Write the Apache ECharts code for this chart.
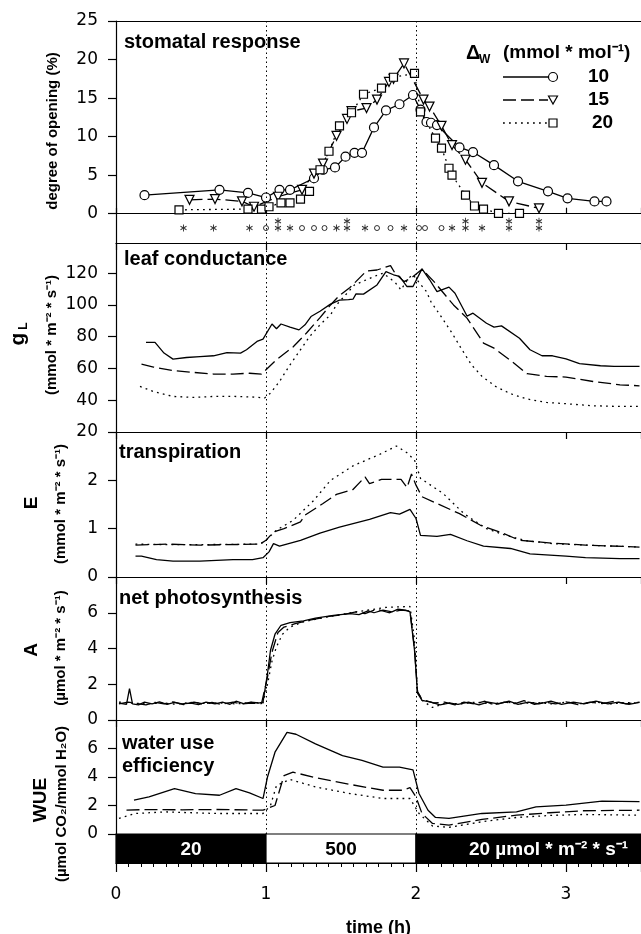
<!DOCTYPE html>
<html>
<head>
<meta charset="utf-8">
<script src="https://cdn.jsdelivr.net/npm/echarts@6/dist/echarts.min.js"></script>
<style>
  html, body { margin: 0; padding: 0; background: #fff; }
  #chart { width: 641px; height: 934px; }
</style>
</head>
<body>
<div id="chart"></div>
<script>
// stomatal response (degree of opening, %), [time h, value]
var openCirc = [[0.19, 2.4], [0.69, 3.1], [0.88, 2.7], [1.00, 2.1], [1.09, 3.1], [1.16, 3.1], [1.32, 4.6], [1.38, 5.7], [1.46, 6.0], [1.53, 7.4], [1.59, 7.9], [1.64, 7.9], [1.72, 11.2], [1.80, 13.4], [1.89, 14.2], [1.98, 15.4], [2.03, 13.5], [2.07, 11.9], [2.10, 11.8], [2.14, 11.5], [2.29, 8.6], [2.38, 8.0], [2.52, 6.3], [2.68, 4.2], [2.88, 2.9], [3.01, 2.0], [3.19, 1.6], [3.27, 1.6]]
var openTri = [[0.49, 1.8], [0.66, 1.9], [0.84, 1.6], [0.92, 0.9], [1.08, 2.2], [1.24, 3.1], [1.32, 5.2], [1.38, 6.5], [1.47, 10.1], [1.54, 12.3], [1.57, 13.3], [1.67, 13.7], [1.74, 14.8], [1.82, 17.1], [1.85, 17.5], [1.92, 19.5], [2.05, 14.8], [2.09, 13.9], [2.17, 11.4], [2.24, 8.9], [2.33, 7.0], [2.44, 4.0], [2.62, 1.6], [2.82, 0.7]]
var openSq = [[0.42, 0.5], [0.88, 0.6], [0.97, 0.6], [1.02, 0.9], [1.10, 1.4], [1.16, 1.4], [1.23, 1.9], [1.29, 2.9], [1.36, 5.7], [1.42, 8.1], [1.49, 11.4], [1.57, 13.1], [1.65, 15.5], [1.77, 16.3], [1.85, 17.7], [1.99, 18.2], [2.03, 13.2], [2.13, 9.8], [2.17, 8.5], [2.22, 5.9], [2.24, 5.0], [2.33, 2.4], [2.39, 1.0], [2.45, 0.6], [2.55, 0.05], [2.69, 0.05]]
// significance marks under the zero line
var sigStarX = [0.45, 0.65, 0.89, 1.08, 1.16, 1.47, 1.54, 1.66, 1.92, 2.24, 2.33, 2.44, 2.62, 2.82]
var sigStarTopX = [1.08, 1.54, 2.33, 2.62, 2.82]
var sigRingX = [1.00, 1.24, 1.32, 1.39, 1.74, 1.83, 2.02, 2.06, 2.17]

// leaf conductance gL
var gSolid = [[0.20, 76.4], [0.26, 76.4], [0.32, 69.7], [0.38, 65.9], [0.47, 66.9], [0.56, 67.5], [0.65, 68.0], [0.74, 70.0], [0.83, 69.7], [0.87, 71.8], [0.94, 77.0], [0.98, 78.5], [1.04, 88.0], [1.07, 85.0], [1.10, 88.0], [1.16, 86.0], [1.22, 84.3], [1.26, 87.5], [1.30, 92.7], [1.36, 96.0], [1.43, 100.5], [1.49, 103.0], [1.55, 103.3], [1.58, 103.6], [1.60, 107.0], [1.65, 106.8], [1.74, 112.6], [1.80, 121.0], [1.85, 119.0], [1.89, 118.0], [1.94, 111.6], [1.98, 111.6], [2.04, 122.7], [2.09, 116.0], [2.14, 108.4], [2.22, 111.2], [2.26, 107.4], [2.34, 93.0], [2.38, 94.8], [2.47, 88.5], [2.52, 86.0], [2.57, 86.8], [2.69, 79.0], [2.76, 71.8], [2.84, 68.0], [2.91, 68.0], [3.00, 66.0], [3.09, 63.0], [3.23, 61.7], [3.32, 61.3], [3.49, 61.3]]
var gDash = [[0.17, 62.8], [0.25, 60.9], [0.38, 58.7], [0.52, 57.5], [0.65, 56.5], [0.78, 56.5], [0.89, 57.0], [0.97, 56.5], [1.07, 65.5], [1.18, 73.5], [1.27, 82.3], [1.36, 92.0], [1.43, 100.0], [1.49, 106.0], [1.56, 111.0], [1.67, 121.4], [1.74, 122.0], [1.83, 124.8], [1.86, 120.0], [1.92, 114.7], [1.97, 117.0], [2.04, 122.5], [2.12, 114.7], [2.25, 100.0], [2.34, 91.7], [2.45, 76.0], [2.52, 72.8], [2.64, 64.4], [2.74, 56.7], [2.87, 55.0], [3.00, 54.6], [3.18, 51.8], [3.36, 49.7], [3.49, 49.1]]
var gDot = [[0.16, 48.7], [0.25, 45.5], [0.38, 42.4], [0.52, 41.8], [0.65, 42.4], [0.78, 42.4], [0.92, 42.0], [0.99, 41.4], [1.03, 44.5], [1.09, 51.8], [1.16, 62.3], [1.23, 71.8], [1.29, 80.0], [1.36, 87.5], [1.43, 93.8], [1.47, 100.0], [1.59, 112.6], [1.72, 117.9], [1.78, 120.0], [1.86, 114.3], [1.90, 109.5], [1.95, 116.9], [1.98, 119.0], [2.03, 113.0], [2.07, 108.4], [2.10, 102.0], [2.17, 92.3], [2.24, 82.3], [2.30, 72.8], [2.37, 62.3], [2.44, 55.0], [2.53, 48.7], [2.63, 44.1], [2.74, 40.8], [2.87, 38.6], [3.00, 37.8], [3.18, 36.5], [3.36, 36.1], [3.49, 36.1]]

// transpiration E
var eSolid = [[0.13, 0.43], [0.17, 0.43], [0.27, 0.36], [0.38, 0.33], [0.56, 0.33], [0.78, 0.36], [0.91, 0.36], [0.98, 0.40], [1.02, 0.52], [1.05, 0.69], [1.09, 0.64], [1.23, 0.76], [1.36, 0.91], [1.49, 1.03], [1.69, 1.19], [1.83, 1.33], [1.89, 1.30], [1.96, 1.40], [2.00, 1.21], [2.03, 0.86], [2.14, 0.84], [2.23, 0.88], [2.34, 0.75], [2.45, 0.64], [2.63, 0.59], [2.76, 0.48], [3.00, 0.43], [3.13, 0.40], [3.36, 0.38], [3.49, 0.38]]
var eDash = [[0.13, 0.66], [0.34, 0.68], [0.56, 0.66], [0.96, 0.68], [1.00, 0.76], [1.05, 0.93], [1.12, 1.00], [1.23, 1.14], [1.26, 1.28], [1.38, 1.52], [1.47, 1.71], [1.58, 1.81], [1.66, 2.07], [1.69, 1.93], [1.77, 2.02], [1.90, 2.02], [1.94, 1.85], [1.97, 2.13], [2.00, 1.90], [2.04, 1.66], [2.14, 1.52], [2.29, 1.31], [2.43, 1.07], [2.56, 0.93], [2.69, 0.76], [2.91, 0.70], [3.13, 0.66], [3.49, 0.62]]
var eDot = [[0.13, 0.68], [0.34, 0.67], [0.56, 0.67], [0.96, 0.68], [1.00, 0.76], [1.07, 0.97], [1.18, 1.17], [1.32, 1.59], [1.43, 2.00], [1.58, 2.30], [1.76, 2.54], [1.87, 2.71], [1.94, 2.57], [1.99, 2.42], [2.03, 2.04], [2.18, 1.73], [2.32, 1.31], [2.47, 1.00], [2.60, 0.86], [2.74, 0.75], [2.91, 0.69], [3.13, 0.66], [3.49, 0.62]]

// net photosynthesis A
var aSolid = [[0.02, 0.95], [0.07, 0.88], [0.09, 1.76], [0.11, 0.90], [0.15, 0.85], [0.19, 1.00], [0.24, 0.90], [0.29, 1.02], [0.34, 0.88], [0.39, 0.98], [0.44, 0.90], [0.50, 0.95], [0.55, 0.86], [0.60, 1.00], [0.66, 0.90], [0.71, 1.00], [0.76, 0.88], [0.80, 1.05], [0.85, 0.92], [0.90, 1.00], [0.95, 0.95], [0.98, 1.00], [1.01, 2.60], [1.03, 3.90], [1.06, 4.80], [1.10, 5.30], [1.16, 5.45], [1.25, 5.55], [1.33, 5.70], [1.45, 5.85], [1.56, 5.95], [1.62, 5.90], [1.68, 6.10], [1.72, 6.00], [1.78, 6.15], [1.84, 6.05], [1.88, 6.20], [1.93, 6.15], [1.96, 6.05], [1.99, 3.90], [2.01, 1.50], [2.04, 1.10], [2.10, 1.00], [2.16, 0.85], [2.22, 0.95], [2.28, 0.88], [2.35, 1.00], [2.42, 0.85], [2.48, 1.00], [2.55, 0.90], [2.62, 1.05], [2.68, 0.88], [2.75, 1.00], [2.82, 0.90], [2.90, 1.05], [2.97, 0.88], [3.05, 1.00], [3.12, 0.90], [3.20, 1.05], [3.28, 0.90], [3.35, 1.00], [3.42, 0.88], [3.49, 0.98]]
var aDash = [[0.02, 0.90], [0.08, 1.00], [0.14, 0.92], [0.20, 0.85], [0.26, 0.98], [0.32, 0.90], [0.38, 1.02], [0.45, 0.86], [0.52, 1.00], [0.58, 0.90], [0.64, 0.98], [0.70, 0.88], [0.78, 1.00], [0.84, 0.90], [0.90, 0.95], [0.97, 0.92], [1.01, 2.40], [1.04, 3.80], [1.08, 4.90], [1.12, 5.20], [1.20, 5.40], [1.30, 5.60], [1.42, 5.80], [1.52, 5.90], [1.60, 6.05], [1.66, 5.95], [1.74, 6.20], [1.82, 6.00], [1.90, 6.15], [1.96, 6.10], [1.99, 4.00], [2.01, 1.60], [2.04, 1.15], [2.12, 0.95], [2.19, 1.00], [2.26, 0.85], [2.32, 1.00], [2.39, 0.90], [2.46, 1.05], [2.52, 0.85], [2.59, 1.00], [2.66, 0.92], [2.72, 1.08], [2.79, 0.88], [2.86, 1.00], [2.93, 0.90], [3.00, 1.02], [3.08, 0.86], [3.16, 1.00], [3.24, 0.92], [3.32, 1.05], [3.40, 0.90], [3.49, 1.00]]
var aDot = [[0.02, 1.00], [0.10, 0.95], [0.20, 0.90], [0.30, 0.95], [0.40, 0.88], [0.50, 0.98], [0.60, 0.92], [0.70, 0.95], [0.80, 0.90], [0.90, 0.98], [0.98, 0.95], [1.01, 2.00], [1.04, 3.30], [1.07, 4.10], [1.11, 4.80], [1.16, 5.20], [1.25, 5.50], [1.40, 5.75], [1.60, 6.05], [1.80, 6.30], [1.96, 6.35], [1.99, 4.50], [2.01, 1.60], [2.04, 1.10], [2.11, 0.70], [2.20, 0.95], [2.30, 0.90], [2.40, 1.00], [2.50, 0.90], [2.60, 1.00], [2.70, 0.92], [2.80, 0.98], [2.90, 0.90], [3.00, 1.00], [3.10, 0.92], [3.20, 1.00], [3.30, 0.90], [3.40, 0.98], [3.49, 0.95]]

// water use efficiency WUE
var wSolid = [[0.12, 2.37], [0.22, 2.60], [0.39, 3.18], [0.53, 2.84], [0.69, 2.72], [0.80, 3.18], [0.89, 2.88], [0.98, 2.49], [1.01, 4.00], [1.06, 5.74], [1.14, 7.13], [1.20, 7.00], [1.33, 6.32], [1.51, 5.50], [1.64, 5.16], [1.78, 4.69], [1.89, 4.69], [1.98, 4.50], [2.02, 2.84], [2.08, 1.67], [2.13, 1.16], [2.22, 1.09], [2.44, 1.44], [2.67, 1.55], [2.80, 1.90], [3.00, 2.02], [3.24, 2.30], [3.49, 2.27]]
var wDash = [[0.07, 1.67], [0.18, 1.71], [0.44, 1.70], [0.67, 1.72], [0.98, 1.67], [1.06, 2.00], [1.12, 4.10], [1.18, 4.34], [1.33, 3.95], [1.56, 3.48], [1.78, 3.07], [1.91, 3.07], [1.96, 3.25], [2.00, 2.60], [2.04, 1.44], [2.11, 0.74], [2.22, 0.63], [2.44, 1.02], [2.67, 1.32], [2.89, 1.49], [3.11, 1.63], [3.49, 1.67]]
var wDot = [[0.02, 1.09], [0.13, 1.44], [0.33, 1.55], [0.67, 1.44], [0.98, 1.44], [1.03, 2.00], [1.07, 3.40], [1.16, 3.83], [1.33, 3.30], [1.56, 2.84], [1.78, 2.49], [1.96, 2.49], [2.02, 1.44], [2.11, 0.56], [2.22, 0.47], [2.44, 0.86], [2.67, 1.16], [2.89, 1.30], [3.11, 1.37], [3.49, 1.32]]

// light regime bar
var lightStart = [0, 1, 2]
var lightEnd = [1, 2, 3.5]
var lightText = ['20', '500', '20 µmol * m⁻² * s⁻¹']

// axis ticks
var timeTicks = [0, 1, 2, 3]
var openTicks = [0, 5, 10, 15, 20, 25]
var gTicks = [20, 40, 60, 80, 100, 120]
var eTicks = [0, 1, 2]
var aTicks = [0, 2, 4, 6]
var wTicks = [0, 2, 4, 6]

var FONT = '"Liberation Sans", Arial, sans-serif'
var NUMFONT = '"DejaVu Sans", sans-serif'
var chart = echarts.init(document.getElementById('chart'))

function yAxis(grid, min, max, ticks) {
  return {
    type: 'value', gridIndex: grid, min: min, max: max,
    axisLine: { show: true, lineStyle: { color: '#000', width: 1.2 } },
    axisTick: { show: true, length: 8, customValues: ticks, lineStyle: { color: '#000', width: 1.2 } },
    axisLabel: { customValues: ticks, color: '#000', fontSize: 17, fontFamily: NUMFONT, margin: 18 },
    splitLine: { show: false }
  }
}

function topAxis(grid, ticks) {
  return {
    type: 'value', gridIndex: grid, position: 'top', min: 0, max: 3.5, interval: 1,
    axisLine: { show: true, onZero: false, lineStyle: { color: '#000', width: 1.2 } },
    axisTick: { show: ticks, inside: true, length: 7, lineStyle: { color: '#000', width: 1.2 } },
    axisLabel: { show: false },
    splitLine: { show: false }
  }
}

var markDotted = {
  silent: true, symbol: 'none', animation: false,
  label: { show: false },
  lineStyle: { color: '#000', type: [1.5, 3], width: 1 },
  data: [{ xAxis: 1 }, { xAxis: 2 }]
}

function line(name, x, y, data, kind, extra) {
  var types = { solid: 'solid', dash: [13, 5], dot: [1.8, 4.2] }
  var s = {
    name: name, type: 'line', xAxisIndex: x, yAxisIndex: y, data: data,
    showSymbol: false, symbol: 'none',
    lineStyle: { color: '#000', width: 1.3, type: types[kind] },
    z: 3
  }
  if (extra) {
    for (var k in extra) s[k] = extra[k]
  }
  return s
}

var mk = { color: '#fff', borderColor: '#000', borderWidth: 1.2 }

function renderLight(params, api) {
  var i = params.dataIndex
  var p0 = api.coord([api.value(0), 1])
  var p1 = api.coord([api.value(1), 0])
  var dark = i % 2 === 0
  var shift = i === 2 ? 20 : 0
  return {
    type: 'group',
    children: [{
      type: 'rect',
      shape: { x: p0[0], y: p0[1], width: p1[0] - p0[0], height: p1[1] - p0[1] },
      style: { fill: dark ? '#000' : '#fff', stroke: '#000', lineWidth: 1.2 }
    }, {
      type: 'text',
      style: {
        text: lightText[i], x: (p0[0] + p1[0]) / 2 + shift, y: (p0[1] + p1[1]) / 2 + 1,
        align: 'center', verticalAlign: 'middle', fill: dark ? '#fff' : '#000',
        font: 'bold 19px ' + FONT
      }
    }]
  }
}

function txt(x, y, text, size, opts) {
  var o = {
    type: 'text', x: x, y: y, silent: true,
    style: { text: text, fill: '#000', font: 'bold ' + size + 'px ' + FONT, align: 'left', verticalAlign: 'middle' }
  }
  if (opts && opts.rotate) { o.rotation = Math.PI / 2; o.style.align = 'center' }
  if (opts && opts.align) o.style.align = opts.align
  return o
}

var graphics = [
  // panel titles
  txt(124, 42, 'stomatal response', 20),
  txt(124, 259, 'leaf conductance', 20),
  txt(119, 452, 'transpiration', 20),
  txt(119, 598, 'net photosynthesis', 20),
  txt(122, 743, 'water use', 20),
  txt(122, 766, 'efficiency', 20),
  // y axis names
  txt(53, 131, 'degree of opening (%)', 15, { rotate: true }),
  txt(18, 339, 'g', 21, { rotate: true }),
  txt(24, 326, 'L', 12, { rotate: true }),
  txt(52, 335, '(mmol * m⁻² * s⁻¹)', 15, { rotate: true }),
  txt(32, 503, 'E', 19, { rotate: true }),
  txt(61, 504, '(mmol * m⁻² * s⁻¹)', 15, { rotate: true }),
  txt(32, 650, 'A', 19, { rotate: true }),
  txt(61, 648, '(µmol * m⁻² * s⁻¹)', 15, { rotate: true }),
  txt(41, 800, 'WUE', 19, { rotate: true }),
  txt(62, 804, '(µmol CO₂/mmol H₂O)', 15, { rotate: true }),
  // legend
  txt(466, 53, 'Δ', 20),
  txt(479, 60, 'W', 12),
  txt(503, 53, '(mmol * mol⁻¹)', 19),
  { type: 'line', shape: { x1: 503, y1: 77, x2: 548, y2: 77 }, style: { stroke: '#000', lineWidth: 1.3 } },
  { type: 'line', shape: { x1: 503, y1: 100, x2: 548, y2: 100 }, style: { stroke: '#000', lineWidth: 1.3, lineDash: [13, 5] } },
  { type: 'line', shape: { x1: 503, y1: 123, x2: 548, y2: 123 }, style: { stroke: '#000', lineWidth: 1.3, lineDash: [1.8, 4.2] } },
  { type: 'circle', shape: { cx: 553, cy: 77, r: 4.5 }, style: { fill: '#fff', stroke: '#000', lineWidth: 1.2 } },
  { type: 'polygon', shape: { points: [[548.5, 96], [557.5, 96], [553, 104]] }, style: { fill: '#fff', stroke: '#000', lineWidth: 1.2 } },
  { type: 'rect', shape: { x: 549, y: 119, width: 8, height: 8 }, style: { fill: '#fff', stroke: '#000', lineWidth: 1.2 } },
  txt(588, 77, '10', 19),
  txt(588, 100, '15', 19),
  txt(592, 123, '20', 19)
]

var starPath = 'path://M0,0L0,10M-4.33,2.5L4.33,7.5M-4.33,7.5L4.33,2.5'

function grid(top, height) {
  return { left: 116, right: 0, top: top, height: height, containLabel: false, outerBoundsMode: 'none' }
}

var option = {
  animation: false,
  backgroundColor: '#fff',
  grid: [grid(21, 222), grid(243, 189), grid(432, 145), grid(577, 143), grid(720, 114), grid(834, 29)],
  xAxis: [
    {
      type: 'value', gridIndex: 0, min: 0, max: 3.5, interval: 1,
      axisLine: { show: true, onZero: true, lineStyle: { color: '#000', width: 1.2 } },
      axisTick: { show: true, inside: true, length: 6, lineStyle: { color: '#000', width: 1.2 } },
      axisLabel: { show: false }, splitLine: { show: false }
    },
    topAxis(0, false),
    topAxis(1, true),
    topAxis(2, true),
    topAxis(3, true),
    topAxis(4, true),
    topAxis(5, false),
    {
      type: 'value', gridIndex: 5, position: 'bottom', min: 0, max: 3.5, interval: 1,
      name: 'time (h)', nameLocation: 'middle', nameGap: 56,
      nameTextStyle: { color: '#000', fontSize: 18, fontWeight: 'bold', fontFamily: FONT },
      axisLine: { show: true, lineStyle: { color: '#000', width: 1.2 } },
      axisTick: { show: true, length: 9, lineStyle: { color: '#000', width: 1.2 } },
      minorTick: { show: true, splitNumber: 12, length: 4, lineStyle: { color: '#000', width: 1 } },
      axisLabel: { customValues: timeTicks, color: '#000', fontSize: 17, fontFamily: NUMFONT, margin: 23 },
      splitLine: { show: false }, minorSplitLine: { show: false }
    }
  ],
  yAxis: [
    yAxis(0, -3.8, 25, openTicks),
    yAxis(1, 20, 139, gTicks),
    yAxis(2, 0, 3, eTicks),
    yAxis(3, 0, 8, aTicks),
    yAxis(4, 0, 8, wTicks),
    { type: 'value', gridIndex: 5, min: 0, max: 1, show: false }
  ],
  series: [
    line('10', 0, 0, openCirc, 'solid', { showSymbol: true, symbol: 'circle', symbolSize: 9, itemStyle: mk, markLine: markDotted, z: 4 }),
    line('15', 0, 0, openTri, 'dash', { showSymbol: true, symbol: 'triangle', symbolRotate: 180, symbolSize: 9, itemStyle: mk, z: 4 }),
    line('20', 0, 0, openSq, 'dot', { showSymbol: true, symbol: 'rect', symbolSize: 8, itemStyle: mk, z: 4 }),
    {
      type: 'scatter', xAxisIndex: 0, yAxisIndex: 0, symbol: starPath, symbolSize: [6, 7],
      itemStyle: { color: '#000', borderColor: '#000', borderWidth: 1 },
      data: sigStarX.map(function (x) { return [x, -1.86] })
    },
    {
      type: 'scatter', xAxisIndex: 0, yAxisIndex: 0, symbol: starPath, symbolSize: [6, 7],
      itemStyle: { color: '#000', borderColor: '#000', borderWidth: 1 },
      data: sigStarTopX.map(function (x) { return [x, -0.99] })
    },
    {
      type: 'scatter', xAxisIndex: 0, yAxisIndex: 0, symbol: 'circle', symbolSize: 5,
      itemStyle: { color: '#fff', borderColor: '#000', borderWidth: 1 },
      data: sigRingX.map(function (x) { return [x, -1.86] })
    },
    line('g10', 2, 1, gSolid, 'solid', { markLine: markDotted }),
    line('g15', 2, 1, gDash, 'dash'),
    line('g20', 2, 1, gDot, 'dot'),
    line('e10', 3, 2, eSolid, 'solid', { markLine: markDotted }),
    line('e15', 3, 2, eDash, 'dash'),
    line('e20', 3, 2, eDot, 'dot'),
    line('a10', 4, 3, aSolid, 'solid', { markLine: markDotted }),
    line('a15', 4, 3, aDash, 'dash'),
    line('a20', 4, 3, aDot, 'dot'),
    line('w10', 5, 4, wSolid, 'solid', { markLine: markDotted }),
    line('w15', 5, 4, wDash, 'dash'),
    line('w20', 5, 4, wDot, 'dot'),
    {
      type: 'custom', xAxisIndex: 7, yAxisIndex: 5, renderItem: renderLight,
      data: lightStart.map(function (s, i) { return [s, lightEnd[i]] }),
      z: 5
    }
  ],
  graphic: graphics
}

chart.setOption(option)
</script>
</body>
</html>
